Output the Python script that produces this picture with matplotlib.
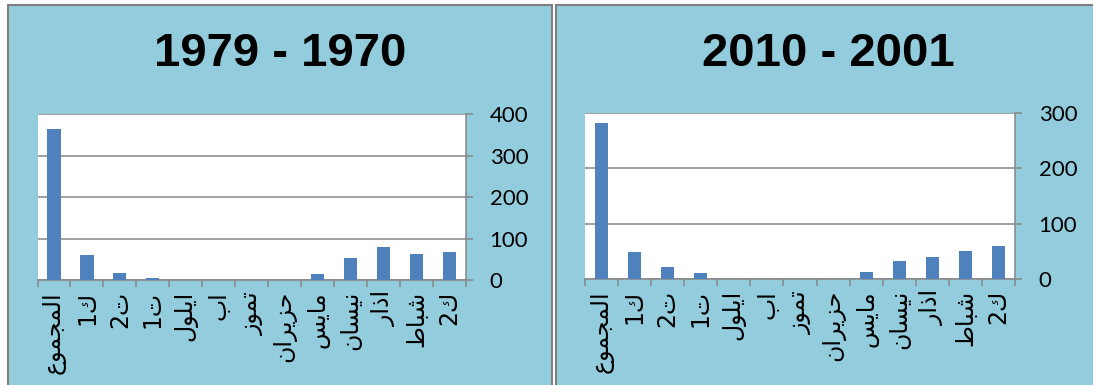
import matplotlib.pyplot as plt
from matplotlib.patches import Rectangle

# month names, total first then Dec back to Jan
months = ["المجموع", "ك1", "ت2", "ت1", "ايلول", "اب", "تموز", "حزيران", "مايس", "نيسان", "اذار", "شباط", "ك2"]

# 1970 - 1979
vals_70s = [364, 61, 17, 6, 0, 0, 0, 0, 14, 54, 80, 63, 67]
# 2001 - 2010
vals_00s = [282, 49, 22, 11, 0, 0, 0, 0, 13, 32, 39, 51, 60]

titles = ["1979 - 1970", "2010 - 2001"]

BLUE_BG = '#93cddd'
BAR = '#4f81bd'
GREY = '#868686'

W, H = 1093, 385

# presentation forms: isolated, final, initial, medial
forms = {
	'ا': ('\ufe8d', '\ufe8e', None, None),
	'ب': ('\ufe8f', '\ufe90', '\ufe91', '\ufe92'),
	'ت': ('\ufe95', '\ufe96', '\ufe97', '\ufe98'),
	'ج': ('\ufe9d', '\ufe9e', '\ufe9f', '\ufea0'),
	'ح': ('\ufea1', '\ufea2', '\ufea3', '\ufea4'),
	'ذ': ('\ufeab', '\ufeac', None, None),
	'ر': ('\ufead', '\ufeae', None, None),
	'ز': ('\ufeaf', '\ufeb0', None, None),
	'س': ('\ufeb1', '\ufeb2', '\ufeb3', '\ufeb4'),
	'ش': ('\ufeb5', '\ufeb6', '\ufeb7', '\ufeb8'),
	'ط': ('\ufec1', '\ufec2', '\ufec3', '\ufec4'),
	'ع': ('\ufec9', '\ufeca', '\ufecb', '\ufecc'),
	'ك': ('\ufed9', '\ufeda', '\ufedb', '\ufedc'),
	'ل': ('\ufedd', '\ufede', '\ufedf', '\ufee0'),
	'م': ('\ufee1', '\ufee2', '\ufee3', '\ufee4'),
	'ن': ('\ufee5', '\ufee6', '\ufee7', '\ufee8'),
	'و': ('\ufeed', '\ufeee', None, None),
	'ي': ('\ufef1', '\ufef2', '\ufef3', '\ufef4'),
}

def dual(c):
	return c in forms and forms[c][2] is not None

def shape(word):
	# matplotlib has no arabic shaping, so pick the joined forms by hand
	# and flip to visual order (labels only have single digits)
	out = []
	for i, c in enumerate(word):
		if c not in forms:
			out.append(c)
			continue
		prev = word[i - 1] if i > 0 else ''
		nxt = word[i + 1] if i < len(word) - 1 else ''
		jp = dual(prev)
		jn = dual(c) and nxt in forms
		iso, fin, ini, med = forms[c]
		if jp and jn:
			out.append(med)
		elif jp:
			out.append(fin)
		elif jn:
			out.append(ini)
		else:
			out.append(iso)
	return ''.join(reversed(out))

def px_box(x0, y0, x1, y1):
	# pixel box (top-left origin) -> figure fractions
	return [x0 / W, (H - y1) / H, (x1 - x0) / W, (y1 - y0) / H]

def draw_panel(fig, vals, title, panel, plot, ymax):
	bx = px_box(*panel)
	fig.add_artist(Rectangle((bx[0], bx[1]), bx[2], bx[3], transform=fig.transFigure,
		facecolor=BLUE_BG, edgecolor='#7f7f7f', linewidth=1.5, zorder=0))

	ax = fig.add_axes(px_box(*plot))
	ax.set_facecolor('white')
	x = list(range(len(vals)))
	ax.bar(x, vals, width=0.4, color=BAR, zorder=3)

	ax.set_xlim(-0.5, len(vals) - 0.5)
	ax.set_ylim(0, ymax)
	ax.set_yticks(range(0, ymax + 1, 100))
	ax.yaxis.tick_right()
	ax.grid(axis='y', color=GREY, linewidth=1.1, zorder=1)
	ax.tick_params(axis='y', which='both', length=5, width=1.1, color=GREY, pad=12, labelsize=16)
	for lab in ax.get_yticklabels():
		lab.set_fontfamily('Lato')

	# category labels in the middle, tick marks on the boundaries
	ax.set_xticks(x)
	ax.set_xticklabels([shape(m) for m in months], rotation=90, fontsize=17, family='DejaVu Sans')
	ax.set_xticks([i - 0.5 for i in range(len(vals) + 1)], minor=True)
	ax.tick_params(axis='x', which='major', length=0, pad=8)
	ax.tick_params(axis='x', which='minor', length=5, width=1.1, color=GREY)

	for s in ['top', 'left']:
		ax.spines[s].set_visible(False)
	for s in ['bottom', 'right']:
		ax.spines[s].set_color(GREY)
		ax.spines[s].set_linewidth(1.1)

	cx = (panel[0] + panel[2]) / 2 / W
	fig.text(cx, (H - 54) / H, title, ha='center', va='center', fontsize=34,
		fontweight='bold', family=['Liberation Sans', 'DejaVu Sans'])

def main():
	fig = plt.figure(figsize=(W / 100, H / 100), dpi=100)
	fig.patch.set_facecolor('white')

	draw_panel(fig, vals_70s, titles[0], (8, 5, 552, 395), (37.5, 114, 466, 280), 400)
	draw_panel(fig, vals_00s, titles[1], (556, 5, 1100, 395), (585, 113, 1015, 279), 300)

	fig.savefig('out.png', dpi=100)

main()
